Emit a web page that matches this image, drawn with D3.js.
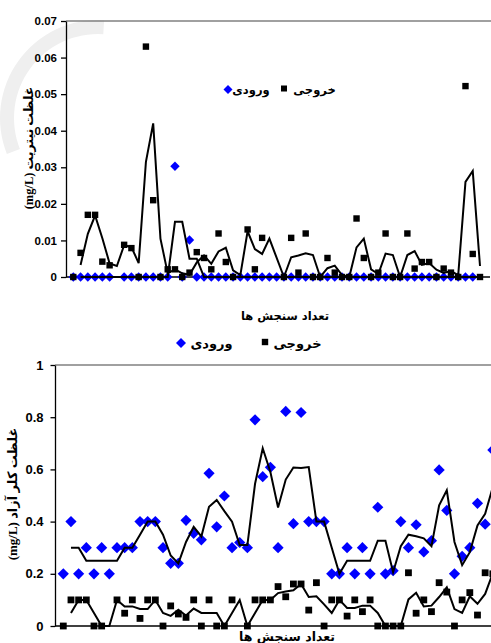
<!DOCTYPE html>
<html>
<head>
<meta charset="utf-8">
<script src="https://cdn.jsdelivr.net/npm/d3@7"></script>
<style>
  html, body { margin: 0; padding: 0; background: #fff; }
  svg { display: block; }
</style>
</head>
<body>
<svg id="chart" width="491" height="643"></svg>
<script>
// ---------- DATA ----------
const seriesNames = ["ورودی", "خروجی"];           // input (diamond), output (square)
const xTitle = "تعداد سنجش ها";
const topYTitle = "(mg/L) غلظت نیتریت";
const botYTitle = "(mg/L) غلظت کلر آزاد";

const topTicks = [0, 0.01, 0.02, 0.03, 0.04, 0.05, 0.06, 0.07];
const topTickLabels = ["0", "0.01", "0.02", "0.03", "0.04", "0.05", "0.06", "0.07"];
const botTicks = [0, 0.2, 0.4, 0.6, 0.8, 1];
const botTickLabels = ["0", "0.2", "0.4", "0.6", "0.8", "1"];

// Nitrite - input (diamonds)
const topInput = [0,0,0,0,0,0,null,0,0,0, 0,0,0,0,0.0303,0,0.0101,0,0,0,
  0,0,0,0,0,0,0,0,0,0, 0,0,0,0,0,0,0,0,0,0, 0,0,0,0,0,0,0,0,0,0, 0,0,0,0,0,0,null];
// Nitrite - output (squares)
const topOutput = [0,0.0066,0.017,0.017,0.0042,0.0032,null,0.0088,0.0079,0,
  0.063,0.021,0,0.0021,0.0021,0,0.0012,0.0068,0.0052,0.0021,
  0.0119,0.0041,0,null,0.013,0.0021,0.0107,null,null,0,
  0.0107,0.0012,0.0119,0,0,0.0052,0.0012,0,0,0.016,
  0.0052,0,0.0012,0.0119,0,0,0.0119,0.0023,0.0041,0.0041,
  0,0.0023,0.0012,0,0.0522,0.0063,0];
// Nitrite - moving average lines
const topInputAvg = [null,0,0,0,0,0,0,0,0,0, 0,0,0,0,0.0151,0.0151,0.005,0.005,0,0,
  0,0,0,0,0,0,0,0,0,0, 0,0,0,0,0,0,0,0,0,0, 0,0,0,0,0,0,0,0,0,0, 0,0,0,0,0,0,0];
const topOutputAvg = [null,0.0033,0.0118,0.0168,0.0106,0.0037,0.003,0.0087,0.0082,0.0038,
  0.0315,0.042,0.0105,0.001,0.0021,0.001,0.0006,0.004,0.0059,0.0036,
  0.007,0.008,0.0018,0.0005,0.0125,0.0076,0.0063,0.0105,null,0,
  0.0054,0.0059,0.0065,0.006,0,0.0024,0.0031,0.0005,0,0.0081,
  0.0105,0.0021,0.0008,0.0064,0.006,0,0.006,0.0071,0.0033,0.0038,
  0.002,0.0011,0.0016,0.0005,0.026,0.029,0.003];

// Free chlorine - input (diamonds)
const botInput = [0.2,0.4,0.2,0.3,0.2,0.3,0.2,0.3,0.3,0.3,
  0.4,0.4,0.4,0.3,0.24,0.24,0.405,0.355,0.33,0.585,
  0.38,0.498,0.3,0.32,0.3,0.79,0.572,0.608,0.3,0.822,
  0.392,0.818,0.4,0.4,0.4,0.2,0.2,0.3,0.2,0.3,
  0.2,0.455,0.2,0.212,0.4,0.3,0.388,0.284,0.327,0.598,
  0.443,0.2,0.267,0.3,0.47,0.39,0.674];
// Free chlorine - output (squares)
const botOutput = [0,0.1,0.1,0.1,0,0,null,0.1,0.049,0.1,
  0.029,0.1,0.1,0,0.077,0.046,0.033,0.1,0,0.1,
  0,0,0.1,null,0,0.1,0.1,0.1,0.151,0.112,
  0.161,0.161,0.061,0.166,0,0.1,0.1,0.038,0.1,0.055,
  0.1,0,0,0,0,0.204,0.049,0.1,0.055,0.166,
  0.13,0,0.1,0.128,0.042,0.204,0.2];
// Free chlorine - moving average lines
const botInputAvg = [null,0.3,0.3,0.25,0.25,0.25,0.25,0.25,0.3,0.3,
  0.35,0.4,0.4,0.35,0.27,0.24,0.322,0.38,0.343,0.457,
  0.483,0.44,0.4,0.31,0.31,0.545,0.681,0.59,0.454,0.561,
  0.607,0.605,0.609,0.4,0.4,0.3,0.2,0.25,0.25,0.25,
  0.25,0.327,0.327,0.206,0.306,0.35,0.344,0.336,0.306,0.462,
  0.52,0.322,0.233,0.283,0.385,0.43,0.532];
const botOutputAvg = [null,0.05,0.1,0.1,0.05,0,0,0.1,0.075,0.075,
  0.065,0.065,0.1,0.05,0.039,0.062,0.04,0.067,0.05,0.05,
  0.05,0,0.05,0.1,0,0.05,0.1,0.1,0.126,0.132,
  0.137,0.161,0.111,0.114,0.083,0.05,0.1,0.069,0.069,0.078,
  0.078,0.05,0,0,0,0.102,0.127,0.075,0.078,0.111,
  0.148,0.065,0.05,0.114,0.085,0.123,0.202];

// ---------- DRAW ----------
const svg = d3.select("#chart");
const BLUE = "#0000ff";
const SANS = "'Liberation Sans', Arial, sans-serif";
const FA = "'Liberation Serif', 'DejaVu Sans', serif";

// faint watermark arc
svg.append("path")
  .attr("d", d3.arc()({innerRadius: 84, outerRadius: 98, startAngle: -Math.PI * 0.62, endAngle: Math.PI * 0.02}))
  .attr("transform", "translate(98,118)")
  .attr("fill", "#efefef");

function diamondPath(r) { return `M0,${-r}L${r},0L0,${r}L${-r},0Z`; }

function drawPanel(cfg) {
  const g = svg.append("g");
  const x = d3.scaleLinear().domain([0, cfg.input.length - 1]).range(cfg.xRange);
  const y = d3.scaleLinear().domain([0, cfg.yMax]).range([cfg.yBottom, cfg.yTop]);

  // top border (gray)
  g.append("line").attr("x1", cfg.axisX).attr("x2", 491)
    .attr("y1", cfg.yTop).attr("y2", cfg.yTop)
    .attr("stroke", "#808080").attr("stroke-width", 1.5);
  // x axis line
  g.append("line").attr("x1", cfg.axisX).attr("x2", cfg.xAxisEnd)
    .attr("y1", cfg.yBottom).attr("y2", cfg.yBottom)
    .attr("stroke", "#000").attr("stroke-width", 1.3);

  // y axis
  const ax = g.append("g").attr("transform", `translate(${cfg.axisX},0)`)
    .call(d3.axisLeft(y).tickValues(cfg.ticks).tickSize(cfg.tickLen).tickSizeOuter(0)
      .tickPadding(cfg.tickPad).tickFormat((d, i) => cfg.tickLabels[i]));
  ax.selectAll("path, line").attr("stroke", "#000").attr("stroke-width", 1.3);
  ax.selectAll("text").attr("font-family", SANS).attr("font-weight", "bold")
    .attr("font-size", cfg.tickFont).attr("fill", "#000");

  const clip = g.append("g");
  const pts = (arr) => arr.map((v, i) => ({i, v})).filter(d => d.v !== null);

  // diamonds
  clip.selectAll("path.in").data(pts(cfg.input)).join("path").attr("class", "in")
    .attr("d", diamondPath(cfg.dR))
    .attr("transform", d => `translate(${x(d.i)},${y(d.v)})`)
    .attr("fill", BLUE);
  // squares
  clip.selectAll("rect.out").data(pts(cfg.output)).join("rect").attr("class", "out")
    .attr("x", d => x(d.i) - cfg.sHalf).attr("y", d => y(d.v) - cfg.sHalf)
    .attr("width", cfg.sHalf * 2).attr("height", cfg.sHalf * 2)
    .attr("fill", "#000");
  // moving-average lines
  const line = d3.line().x(d => x(d.i)).y(d => y(d.v));
  [cfg.inputAvg, cfg.outputAvg].forEach(arr => {
    clip.append("path").datum(pts(arr)).attr("d", line)
      .attr("fill", "none").attr("stroke", "#000").attr("stroke-width", 2)
      .attr("stroke-linejoin", "miter");
  });

  // y title
  g.append("text")
    .attr("transform", `translate(${cfg.yTitleX},${cfg.yTitleY}) rotate(-90)`)
    .attr("text-anchor", "middle").attr("direction", "ltr")
    .attr("font-family", FA).attr("font-weight", "bold").attr("font-size", cfg.yTitleFont)
    .text(cfg.yTitle);
  // x title
  g.append("text").attr("x", cfg.xTitleX).attr("y", cfg.xTitleY)
    .attr("text-anchor", "middle")
    .attr("font-family", "'DejaVu Sans', sans-serif").attr("font-weight", "bold")
    .attr("font-size", cfg.xTitleFont)
    .text(xTitle);

  // legend: ◆ ورودی  ■ خروجی
  const L = cfg.legend;
  g.append("path").attr("d", diamondPath(L.dR))
    .attr("transform", `translate(${L.dX},${L.y})`).attr("fill", BLUE);
  g.append("text").attr("x", L.t1X).attr("y", L.y + L.base).attr("text-anchor", "middle")
    .attr("font-family", "'DejaVu Sans', sans-serif").attr("font-weight", "bold")
    .attr("font-size", L.font).text(seriesNames[0]);
  g.append("rect").attr("x", L.sX - L.sHalf).attr("y", L.y - L.sHalf - 1)
    .attr("width", L.sHalf * 2).attr("height", L.sHalf * 2).attr("fill", "#000");
  g.append("text").attr("x", L.t2X).attr("y", L.y + L.base).attr("text-anchor", "middle")
    .attr("font-family", "'DejaVu Sans', sans-serif").attr("font-weight", "bold")
    .attr("font-size", L.font).text(seriesNames[1]);
}

drawPanel({
  input: topInput, output: topOutput, inputAvg: topInputAvg, outputAvg: topOutputAvg,
  xRange: [73.3, 480], yMax: 0.07, yTop: 21, yBottom: 277, axisX: 66, xAxisEnd: 490,
  ticks: topTicks, tickLabels: topTickLabels, tickLen: 5, tickPad: 4, tickFont: 11.5,
  dR: 4.7, sHalf: 3.2,
  yTitle: topYTitle, yTitleX: 33, yTitleY: 148, yTitleFont: 12.5,
  xTitle: xTitle, xTitleX: 285, xTitleY: 320, xTitleFont: 11.5,
  legend: {y: 89.5, dR: 4.5, dX: 228, t1X: 251, sX: 284, sHalf: 3, t2X: 314.5, font: 11.5, base: 4}
});

drawPanel({
  input: botInput, output: botOutput, inputAvg: botInputAvg, outputAvg: botOutputAvg,
  xRange: [63.3, 63.3 + 7.67 * 56], yMax: 1, yTop: 365, yBottom: 626, axisX: 55, xAxisEnd: 491,
  ticks: botTicks, tickLabels: botTickLabels, tickLen: 4.5, tickPad: 7, tickFont: 13,
  dR: 5.6, sHalf: 3.4,
  yTitle: botYTitle, yTitleX: 17, yTitleY: 494, yTitleFont: 13,
  xTitle: xTitle, xTitleX: 287, xTitleY: 641, xTitleFont: 12.5,
  legend: {y: 343, dR: 5, dX: 181, t1X: 211.5, sX: 265, sHalf: 3.2, t2X: 297.5, font: 13, base: 4.5}
});
</script>
</body>
</html>
